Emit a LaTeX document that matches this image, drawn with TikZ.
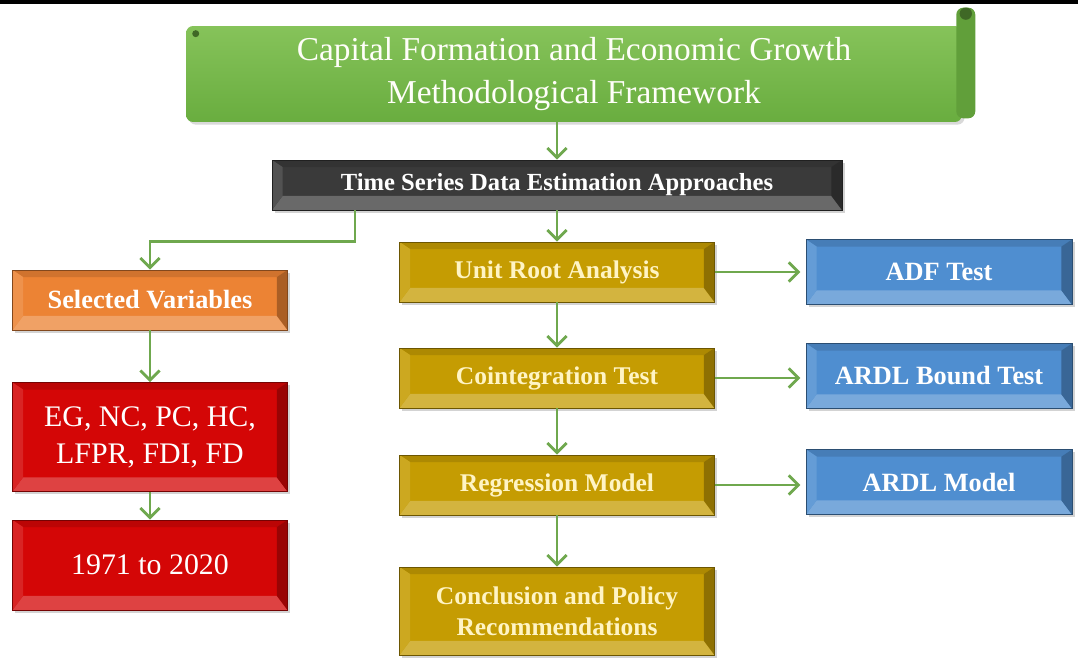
\documentclass[tikz,border=0pt]{standalone}
\usepackage{fontspec}
\setmainfont{Liberation Serif}
\usetikzlibrary{arrows.meta,calc,shadows}
\definecolor{flowgreen}{HTML}{6FA84E}
\definecolor{bannertop}{HTML}{86C35A}
\definecolor{bannerbot}{HTML}{69AD3F}
\definecolor{slate}{HTML}{3A3A3A}
\definecolor{amber}{HTML}{EC8334}
\definecolor{crimson}{HTML}{D40606}
\definecolor{ochre}{HTML}{C59C02}
\definecolor{steel}{HTML}{4F8ED0}
\definecolor{cream}{HTML}{FFF4C4}

\begin{document}
\begin{tikzpicture}[
    x=0.02cm,y=-0.02cm,>=Latex,
    bevel/.style={draw=#1!55!black,line width=.4pt,fill=#1,align=center,inner sep=2pt,
      drop shadow={opacity=.35,shadow xshift=1.5pt,shadow yshift=-1.5pt},
      path picture={
        \fill[#1!88!black] (path picture bounding box.north west) -- (path picture bounding box.north east)
          -- ([xshift=-6pt,yshift=-4pt]path picture bounding box.north east)
          -- ([xshift=6pt,yshift=-4pt]path picture bounding box.north west) -- cycle;
        \fill[#1!76!white] (path picture bounding box.south west) -- (path picture bounding box.south east)
          -- ([xshift=-6pt,yshift=8pt]path picture bounding box.south east)
          -- ([xshift=6pt,yshift=8pt]path picture bounding box.south west) -- cycle;
        \fill[#1!88!white] (path picture bounding box.north west) -- (path picture bounding box.south west)
          -- ([xshift=6pt,yshift=8pt]path picture bounding box.south west)
          -- ([xshift=6pt,yshift=-4pt]path picture bounding box.north west) -- cycle;
        \fill[#1!72!black] (path picture bounding box.north east) -- (path picture bounding box.south east)
          -- ([xshift=-6pt,yshift=8pt]path picture bounding box.south east)
          -- ([xshift=-6pt,yshift=-4pt]path picture bounding box.north east) -- cycle;
      }},
    banner/.style={top color=bannertop,bottom color=bannerbot,rounded corners=4pt,
      minimum width=15.52cm,minimum height=1.92cm,align=center,
      text=white!90!cream,font=\fontsize{19}{24}\selectfont,
      drop shadow={opacity=.3,shadow xshift=1.5pt,shadow yshift=-1.5pt}},
    stage/.style={bevel=ochre,minimum width=6.3cm,minimum height=1.2cm,text=cream,
      font=\fontsize{14.5}{17.5}\selectfont\bfseries},
    test/.style={bevel=steel,minimum width=5.32cm,minimum height=1.3cm,text=white,
      font=\fontsize{15}{18}\selectfont\bfseries},
    datum/.style={bevel=crimson,minimum width=5.5cm,text=white,
      font=\fontsize{17}{21}\selectfont},
    flow/.style={draw=flowgreen,line width=1.6pt,-{Straight Barb[length=5.5pt,width=11pt]}}
  ]
  \useasboundingbox (0,0) rectangle (1078,658);
  \fill[black] (0,0) rectangle (1078,4);

  \node[banner] (title) at (574,74) {Capital Formation and Economic Growth\\Methodological Framework};
  \fill[bannerbot!92!black,rounded corners=4pt] ($(title.north east)+(-6,-18)$) rectangle ($(title.south east)+(13,-4)$);
  \fill[bannerbot!60!black] ($(title.north east)+(3.5,-12)$) circle (3.5pt);
  \fill[bannerbot!60!black] ($(title.north west)+(10,8)$) circle (2pt);

  \node[bevel=slate,minimum width=11.4cm,minimum height=1cm,text=white,
    font=\fontsize{14}{17}\selectfont\bfseries] (estim) at (557,185) {Time Series Data Estimation Approaches};

  \node[bevel=amber,minimum width=5.5cm,minimum height=1.2cm,text=white,
    font=\fontsize{15}{18}\selectfont\bfseries] (sel) at (150,300) {Selected Variables};
  \node[datum,minimum height=2.18cm] (vars) at (150,437) {EG, NC, PC, HC,\\LFPR, FDI, FD};
  \node[datum,minimum height=1.8cm] (years) at (150,565) {1971 to 2020};

  \node[stage] (unit) at (557,272) {Unit Root Analysis};
  \node[stage] (coint) at (557,378) {Cointegration Test};
  \node[stage] (regr) at (557,485) {Regression Model};
  \node[stage,minimum height=1.76cm] (concl) at (557,611) {Conclusion and Policy\\Recommendations};

  \node[test] (adf) at (939,272) {ADF Test};
  \node[test] (bound) at (939,376) {ARDL Bound Test};
  \node[test] (model) at (939,482) {ARDL Model};

  \draw[flow] (title.south -| estim.north) -- (estim.north);
  \draw[flow] (estim.south) -- (unit.north);
  \draw[flow] ($(estim.south)+(-202,0)$) -- ++(0,31) -| (sel.north);
  \draw[flow] (sel.south) -- (vars.north);
  \draw[flow] (vars.south) -- (years.north);
  \draw[flow] (unit.south) -- (coint.north);
  \draw[flow] (coint.south) -- (regr.north);
  \draw[flow] (regr.south) -- (concl.north);
  \draw[flow,shorten >=3pt] (unit.east) -- (unit.east -| adf.west);
  \draw[flow,shorten >=3pt] (coint.east) -- (coint.east -| bound.west);
  \draw[flow,shorten >=3pt] (regr.east) -- (regr.east -| model.west);
\end{tikzpicture}
\end{document}
